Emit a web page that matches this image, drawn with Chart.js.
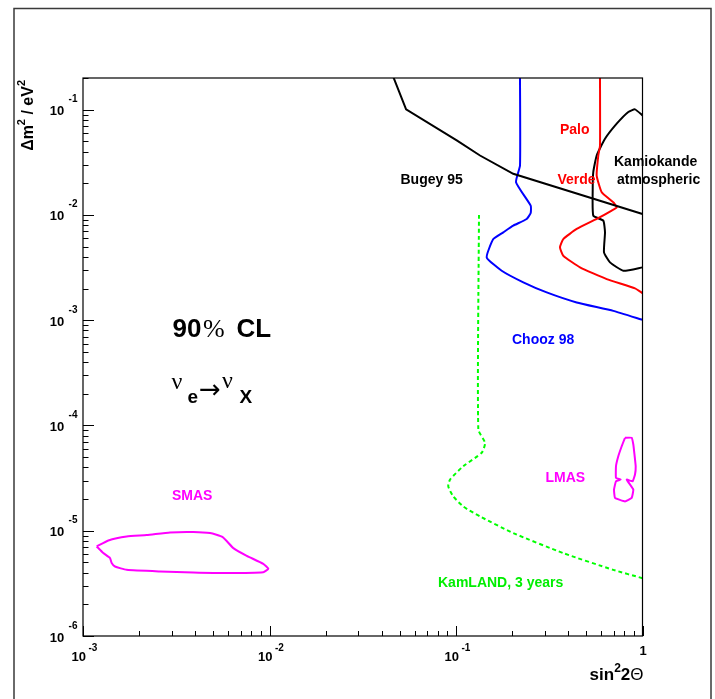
<!DOCTYPE html>
<html>
<head>
<meta charset="utf-8">
<script src="https://cdn.jsdelivr.net/npm/chart.js@4"></script>
<style>
  html, body { margin: 0; padding: 0; background: #fff; }
  canvas { display: block; }
</style>
</head>
<body>
<canvas id="myChart" width="715" height="699"></canvas>
<script>
// exclusion / allowed regions (sin^2 2theta, dm^2 in eV^2)
const bugeyX = [0.0461, 0.0540, 0.1009, 0.1345, 0.2028, 1.0];
const bugeyY = [0.205, 0.1007, 0.0510, 0.0367, 0.0246, 0.0102];

const choozX = [0.2204, 0.2204, 0.2098, 0.2515, 0.2515, 0.2393, 0.2028, 0.1793, 0.1585, 0.1461, 0.1758, 0.2296, 0.3064, 0.4437, 0.6972, 1.0];
const choozY = [0.2, 0.0295, 0.0205, 0.01227, 0.01045, 0.00916, 0.00791, 0.00684, 0.0059, 0.00395, 0.00295, 0.00229, 0.001836, 0.001474, 0.001226, 0.001007];

const paloX = [0.5918, 0.5918, 0.5794, 0.568, 0.6043, 0.6972, 0.7273, 0.6837, 0.568, 0.4437, 0.376, 0.361, 0.376, 0.4622, 0.6427, 0.9116, 1.0];
const paloY = [0.2, 0.0457, 0.0367, 0.02367, 0.01644, 0.01321, 0.01184, 0.01099, 0.00916, 0.00736, 0.0059, 0.00493, 0.0041, 0.003177, 0.002458, 0.002004, 0.001807];

const kamiokaX = [1.0, 0.9116, 0.8394, 0.7273, 0.6294, 0.568, 0.5446, 0.5408, 0.5446, 0.6163, 0.6294, 0.6217, 0.6694, 0.7888, 1.0];
const kamiokaY = [0.0882, 0.1007, 0.0951, 0.0736, 0.0529, 0.0367, 0.0255, 0.01768, 0.00985, 0.00882, 0.00684, 0.00441, 0.003544, 0.00295, 0.003177];

const kamlandX = [0.1328, 0.1317, 0.1431, 0.1373, 0.1094, 0.0929, 0.0909, 0.0967, 0.1094, 0.1345, 0.2028, 0.376, 0.6972, 1.0];
const kamlandY = [0.01, 9.16e-5, 6.84e-5, 5.5e-5, 4.1e-5, 3.06e-5, 2.64e-5, 2.12e-5, 1.70e-5, 1.368e-5, 9.5e-6, 6.13e-6, 4.25e-6, 3.54e-6];

const lmasX = [0.8057, 0.8752, 0.8929, 0.9036, 0.9194, 0.9116, 0.886, 0.8229, 0.8929, 0.8752, 0.8057, 0.712, 0.7034, 0.7208, 0.7641, 0.7208, 0.7208, 0.7416, 0.7735, 0.8057];
const lmasY = [7.64e-5, 7.64e-5, 6.59e-5, 5.5e-5, 4.1e-5, 3.42e-5, 2.95e-5, 3.06e-5, 2.46e-5, 2.05e-5, 1.90e-5, 2.05e-5, 2.46e-5, 2.95e-5, 3.06e-5, 3.18e-5, 4.1e-5, 5.10e-5, 6.35e-5, 7.64e-5];

const smasX = [0.001184, 0.001367, 0.001715, 0.002196, 0.002927, 0.003903, 0.0048, 0.00561, 0.0064, 0.00755, 0.00926, 0.00985, 0.00926, 0.0059, 0.003903, 0.002587, 0.001715, 0.001484, 0.001425, 0.001396, 0.001285, 0.001184];
const smasY = [7.09e-6, 8.08e-6, 8.82e-6, 9.1e-6, 9.63e-6, 9.72e-6, 9.5e-6, 8.71e-6, 6.84e-6, 5.78e-6, 4.85e-6, 4.35e-6, 4.04e-6, 3.96e-6, 4.01e-6, 4.1e-6, 4.25e-6, 4.57e-6, 4.93e-6, 5.5e-6, 6.13e-6, 7.09e-6];

// axis range and decade ticks
const xDecades = [-3, -2, -1, 0];
const yDecades = [-6, -5, -4, -3, -2, -1];
const xMin = 1e-3, xMax = 1;
const yMin = 1e-6, yMax = 0.2;

function pts(xs, ys) {
    return xs.map((v, i) => ({ x: v, y: ys[i] }));
}

function curve(label, xs, ys, color, extra) {
    return Object.assign({
        label: label,
        data: pts(xs, ys),
        showLine: true,
        borderColor: color,
        borderWidth: 2,
        pointRadius: 0,
        tension: 0.15,
        fill: false
    }, extra || {});
}

const SANS = '"Liberation Sans", Arial, Helvetica, sans-serif';
const SERIF = '"Liberation Serif", "Times New Roman", serif';

// draws a row of text pieces, each with its own font and vertical shift
function runsWidth(ctx, runs) {
    let w = 0;
    runs.forEach(r => { ctx.font = r.font; w += ctx.measureText(r.t).width + (r.gap || 0); });
    return w;
}
function drawRuns(ctx, runs, x, y, color) {
    ctx.fillStyle = color;
    ctx.textBaseline = 'alphabetic';
    ctx.textAlign = 'left';
    runs.forEach(r => {
        ctx.font = r.font;
        x += (r.gap || 0);
        ctx.fillText(r.t, x, y - (r.dy || 0));
        x += ctx.measureText(r.t).width;
    });
}

const labels = [
    { t: 'Palo', x: 560, y: 134, c: '#ff0000' },
    { t: 'Verde', x: 557.5, y: 184, c: '#ff0000' },
    { t: 'Bugey 95', x: 400.5, y: 184, c: '#000000' },
    { t: 'Kamiokande', x: 614, y: 166, c: '#000000' },
    { t: 'atmospheric', x: 617, y: 184, c: '#000000' },
    { t: 'Chooz 98', x: 512, y: 344, c: '#0000ff' },
    { t: 'LMAS', x: 545.5, y: 482, c: '#ff00ff' },
    { t: 'SMAS', x: 172, y: 500, c: '#ff00ff' },
    { t: 'KamLAND, 3 years', x: 438, y: 587, c: '#00ee00' }
];

const rootFrame = {
    id: 'rootFrame',
    beforeDraw(chart) {
        const ctx = chart.ctx;
        ctx.save();
        ctx.fillStyle = '#fff';
        ctx.fillRect(0, 0, chart.width, chart.height);
        ctx.restore();
    },
    afterDraw(chart) {
        const { ctx, chartArea: a, scales } = chart;
        const xs = scales.x, ys = scales.y;
        ctx.save();

        // canvas border
        ctx.strokeStyle = '#3a3a3a';
        ctx.lineWidth = 1.5;
        ctx.strokeRect(14, 8.5, 697, 720);

        // plot frame
        ctx.strokeStyle = '#000';
        ctx.lineWidth = 1.2;
        ctx.strokeRect(a.left, a.top, a.right - a.left, a.bottom - a.top);

        // ticks (inside, ROOT style)
        ctx.lineWidth = 1;
        ctx.beginPath();
        xDecades.forEach(d => {
            for (let m = 1; m <= 9; m++) {
                const v = m * Math.pow(10, d);
                if (v < xMin * 0.999 || v > xMax * 1.001) continue;
                const px = Math.round(xs.getPixelForValue(v)) + 0.5;
                const len = m === 1 ? 10 : 5;
                ctx.moveTo(px, a.bottom);
                ctx.lineTo(px, a.bottom - len);
            }
        });
        yDecades.forEach(d => {
            for (let m = 1; m <= 9; m++) {
                const v = m * Math.pow(10, d);
                if (v < yMin * 0.999 || v > yMax * 1.001) continue;
                const py = Math.round(ys.getPixelForValue(v)) + 0.5;
                const len = m === 1 ? 11 : 5.5;
                ctx.moveTo(a.left, py);
                ctx.lineTo(a.left + len, py);
            }
        });
        ctx.stroke();

        // tick labels
        const big = 'bold 13px ' + SANS, small = 'bold 10px ' + SANS;
        xDecades.forEach(d => {
            const px = xs.getPixelForValue(Math.pow(10, d));
            if (d === 0) {
                ctx.font = big;
                const w = ctx.measureText('1').width;
                drawRuns(ctx, [{ t: '1', font: big }], px - w / 2 + 0.5, 655, '#000');
                return;
            }
            const runs = [{ t: '10', font: big }, { t: '-' + (-d), font: small, dy: 10, gap: 2.5 }];
            const w = runsWidth(ctx, runs);
            drawRuns(ctx, runs, px - w / 2 + 1.5, a.bottom + 24.7, '#000');
        });
        yDecades.forEach(d => {
            const py = ys.getPixelForValue(Math.pow(10, d));
            const runs = [{ t: '10', font: big }, { t: '-' + (-d), font: small, dy: 13, gap: 4.5 }];
            const w = runsWidth(ctx, runs);
            drawRuns(ctx, runs, a.left - 5.5 - w, py + 5.5, '#000');
        });

        // axis titles
        const tb = 'bold 17px ' + SANS, ts = 'bold 12px ' + SANS;
        const xt = [{ t: 'sin', font: tb }, { t: '2', font: ts, dy: 8 }, { t: '2', font: tb },
                    { t: '\u0398', font: '17px ' + SANS }];
        drawRuns(ctx, xt, a.right + 1 - runsWidth(ctx, xt), 680, '#000');

        const yb = 'bold 16px ' + SANS, ysm = 'bold 11px ' + SANS;
        const yt = [{ t: '\u0394m', font: yb }, { t: '2', font: ysm, dy: 8 }, { t: ' / eV', font: yb },
                    { t: '2', font: ysm, dy: 8 }];
        ctx.save();
        ctx.translate(33, 80);
        ctx.rotate(-Math.PI / 2);
        drawRuns(ctx, yt, -runsWidth(ctx, yt), 0, '#000');
        ctx.restore();

        // curve labels
        labels.forEach(l => drawRuns(ctx, [{ t: l.t, font: 'bold 14px ' + SANS }], l.x, l.y, l.c));

        // 90% CL
        drawRuns(ctx, [{ t: '90', font: 'bold 26px ' + SANS }], 172.5, 337, '#000');
        drawRuns(ctx, [{ t: '%', font: '26px ' + SERIF }], 203, 337, '#000');
        drawRuns(ctx, [{ t: 'CL', font: 'bold 26px ' + SANS }], 236.5, 337, '#000');

        // nu_e -> nu_X
        drawRuns(ctx, [{ t: '\u03bd', font: '24px ' + SERIF }], 171.5, 389, '#000');
        drawRuns(ctx, [{ t: 'e', font: 'bold 19px ' + SANS }], 187.5, 403, '#000');
        drawRuns(ctx, [{ t: '\u2192', font: '26px "DejaVu Sans", sans-serif' }], 199, 397.5, '#000');
        drawRuns(ctx, [{ t: '\u03bd', font: '24px ' + SERIF }], 222, 388, '#000');
        drawRuns(ctx, [{ t: 'X', font: 'bold 19px ' + SANS }], 239.5, 403, '#000');

        ctx.restore();
    }
};

const ctx = document.getElementById('myChart').getContext('2d');

const config = {
    type: 'scatter',
    data: {
        datasets: [
            curve('Bugey 95', bugeyX, bugeyY, '#000000', { tension: 0 }),
            curve('Chooz 98', choozX, choozY, '#0000ff'),
            curve('Palo Verde', paloX, paloY, '#ff0000'),
            curve('Kamiokande atmospheric', kamiokaX, kamiokaY, '#000000'),
            curve('KamLAND, 3 years', kamlandX, kamlandY, '#00ff00', { borderDash: [4, 3], tension: 0.2 }),
            curve('LMAS', lmasX, lmasY, '#ff00ff', { tension: 0.1 }),
            curve('SMAS', smasX, smasY, '#ff00ff')
        ]
    },
    options: {
        responsive: false,
        animation: false,
        devicePixelRatio: 1,
        layout: { padding: { left: 83, right: 72.5, top: 78, bottom: 63 } },
        scales: {
            x: { type: 'logarithmic', min: xMin, max: xMax, display: false },
            y: { type: 'logarithmic', min: yMin, max: yMax, display: false }
        },
        plugins: {
            legend: { display: false },
            tooltip: { enabled: false }
        }
    },
    plugins: [rootFrame]
};

const myChart = new Chart(ctx, config);
</script>
</body>
</html>
